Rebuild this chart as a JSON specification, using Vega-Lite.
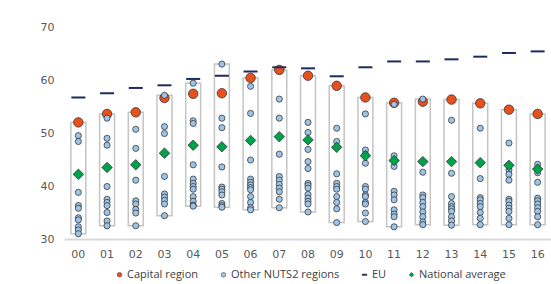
{
  "$schema": "https://vega.github.io/schema/vega-lite/v6.json",
  "autosize": "none",
  "padding": {"left": 64, "top": 27, "right": 0, "bottom": 45},
  "width": 488,
  "height": 212,
  "config": {"view": {"stroke": null}, "font": "DejaVu Sans"},
  "datasets": {
    "d": [
      {"yr":"00","s":"Capital region","v":52.0},{"yr":"01","s":"Capital region","v":53.6},{"yr":"02","s":"Capital region","v":53.9},{"yr":"03","s":"Capital region","v":56.6},{"yr":"04","s":"Capital region","v":57.4},{"yr":"05","s":"Capital region","v":57.5},{"yr":"06","s":"Capital region","v":60.4},{"yr":"07","s":"Capital region","v":61.9},{"yr":"08","s":"Capital region","v":60.8},{"yr":"09","s":"Capital region","v":58.9},{"yr":"10","s":"Capital region","v":56.7},{"yr":"11","s":"Capital region","v":55.7},{"yr":"12","s":"Capital region","v":55.9},{"yr":"13","s":"Capital region","v":56.3},{"yr":"14","s":"Capital region","v":55.6},{"yr":"15","s":"Capital region","v":54.4},{"yr":"16","s":"Capital region","v":53.6},
      {"yr":"00","s":"National average","v":42.2},{"yr":"01","s":"National average","v":43.5},{"yr":"02","s":"National average","v":44.0},{"yr":"03","s":"National average","v":46.2},{"yr":"04","s":"National average","v":47.7},{"yr":"05","s":"National average","v":47.4},{"yr":"06","s":"National average","v":48.6},{"yr":"07","s":"National average","v":49.3},{"yr":"08","s":"National average","v":48.7},{"yr":"09","s":"National average","v":47.3},{"yr":"10","s":"National average","v":45.7},{"yr":"11","s":"National average","v":44.8},{"yr":"12","s":"National average","v":44.6},{"yr":"13","s":"National average","v":44.6},{"yr":"14","s":"National average","v":44.4},{"yr":"15","s":"National average","v":43.9},{"yr":"16","s":"National average","v":43.2},
      {"yr":"00","s":"EU","v":56.7},{"yr":"01","s":"EU","v":57.5},{"yr":"02","s":"EU","v":58.5},{"yr":"03","s":"EU","v":59.0},{"yr":"04","s":"EU","v":60.2},{"yr":"05","s":"EU","v":60.8},{"yr":"06","s":"EU","v":61.6},{"yr":"07","s":"EU","v":62.4},{"yr":"08","s":"EU","v":62.2},{"yr":"09","s":"EU","v":60.7},{"yr":"10","s":"EU","v":62.4},{"yr":"11","s":"EU","v":63.5},{"yr":"12","s":"EU","v":63.5},{"yr":"13","s":"EU","v":63.9},{"yr":"14","s":"EU","v":64.4},{"yr":"15","s":"EU","v":65.1},{"yr":"16","s":"EU","v":65.4},
      {"yr":"00","s":"Other NUTS2 regions","v":49.5},{"yr":"00","s":"Other NUTS2 regions","v":48.4},{"yr":"00","s":"Other NUTS2 regions","v":38.8},{"yr":"00","s":"Other NUTS2 regions","v":36.3},{"yr":"00","s":"Other NUTS2 regions","v":35.8},{"yr":"00","s":"Other NUTS2 regions","v":34.0},{"yr":"00","s":"Other NUTS2 regions","v":33.6},{"yr":"00","s":"Other NUTS2 regions","v":32.3},{"yr":"00","s":"Other NUTS2 regions","v":31.7},{"yr":"00","s":"Other NUTS2 regions","v":31.0},
      {"yr":"01","s":"Other NUTS2 regions","v":52.8},{"yr":"01","s":"Other NUTS2 regions","v":49.0},{"yr":"01","s":"Other NUTS2 regions","v":47.7},{"yr":"01","s":"Other NUTS2 regions","v":39.9},{"yr":"01","s":"Other NUTS2 regions","v":37.5},{"yr":"01","s":"Other NUTS2 regions","v":36.9},{"yr":"01","s":"Other NUTS2 regions","v":36.3},{"yr":"01","s":"Other NUTS2 regions","v":35.0},{"yr":"01","s":"Other NUTS2 regions","v":33.4},{"yr":"01","s":"Other NUTS2 regions","v":32.5},
      {"yr":"02","s":"Other NUTS2 regions","v":50.7},{"yr":"02","s":"Other NUTS2 regions","v":47.1},{"yr":"02","s":"Other NUTS2 regions","v":41.1},{"yr":"02","s":"Other NUTS2 regions","v":37.2},{"yr":"02","s":"Other NUTS2 regions","v":36.6},{"yr":"02","s":"Other NUTS2 regions","v":35.6},{"yr":"02","s":"Other NUTS2 regions","v":34.9},{"yr":"02","s":"Other NUTS2 regions","v":32.5},
      {"yr":"03","s":"Other NUTS2 regions","v":57.1},{"yr":"03","s":"Other NUTS2 regions","v":51.2},{"yr":"03","s":"Other NUTS2 regions","v":49.9},{"yr":"03","s":"Other NUTS2 regions","v":41.8},{"yr":"03","s":"Other NUTS2 regions","v":38.5},{"yr":"03","s":"Other NUTS2 regions","v":37.9},{"yr":"03","s":"Other NUTS2 regions","v":37.3},{"yr":"03","s":"Other NUTS2 regions","v":36.6},{"yr":"03","s":"Other NUTS2 regions","v":34.4},
      {"yr":"04","s":"Other NUTS2 regions","v":59.4},{"yr":"04","s":"Other NUTS2 regions","v":52.3},{"yr":"04","s":"Other NUTS2 regions","v":51.8},{"yr":"04","s":"Other NUTS2 regions","v":44.0},{"yr":"04","s":"Other NUTS2 regions","v":41.3},{"yr":"04","s":"Other NUTS2 regions","v":40.5},{"yr":"04","s":"Other NUTS2 regions","v":39.9},{"yr":"04","s":"Other NUTS2 regions","v":39.4},{"yr":"04","s":"Other NUTS2 regions","v":38.0},{"yr":"04","s":"Other NUTS2 regions","v":37.1},{"yr":"04","s":"Other NUTS2 regions","v":36.4},{"yr":"04","s":"Other NUTS2 regions","v":36.2},
      {"yr":"05","s":"Other NUTS2 regions","v":63.0},{"yr":"05","s":"Other NUTS2 regions","v":52.8},{"yr":"05","s":"Other NUTS2 regions","v":51.0},{"yr":"05","s":"Other NUTS2 regions","v":43.6},{"yr":"05","s":"Other NUTS2 regions","v":39.8},{"yr":"05","s":"Other NUTS2 regions","v":39.4},{"yr":"05","s":"Other NUTS2 regions","v":38.9},{"yr":"05","s":"Other NUTS2 regions","v":38.3},{"yr":"05","s":"Other NUTS2 regions","v":36.7},{"yr":"05","s":"Other NUTS2 regions","v":36.3},{"yr":"05","s":"Other NUTS2 regions","v":36.0},
      {"yr":"06","s":"Other NUTS2 regions","v":58.8},{"yr":"06","s":"Other NUTS2 regions","v":53.7},{"yr":"06","s":"Other NUTS2 regions","v":44.9},{"yr":"06","s":"Other NUTS2 regions","v":41.3},{"yr":"06","s":"Other NUTS2 regions","v":40.7},{"yr":"06","s":"Other NUTS2 regions","v":40.2},{"yr":"06","s":"Other NUTS2 regions","v":39.7},{"yr":"06","s":"Other NUTS2 regions","v":39.3},{"yr":"06","s":"Other NUTS2 regions","v":38.0},{"yr":"06","s":"Other NUTS2 regions","v":36.9},{"yr":"06","s":"Other NUTS2 regions","v":35.9},{"yr":"06","s":"Other NUTS2 regions","v":35.5},
      {"yr":"07","s":"Other NUTS2 regions","v":56.4},{"yr":"07","s":"Other NUTS2 regions","v":52.8},{"yr":"07","s":"Other NUTS2 regions","v":46.0},{"yr":"07","s":"Other NUTS2 regions","v":41.8},{"yr":"07","s":"Other NUTS2 regions","v":41.1},{"yr":"07","s":"Other NUTS2 regions","v":40.3},{"yr":"07","s":"Other NUTS2 regions","v":39.6},{"yr":"07","s":"Other NUTS2 regions","v":38.9},{"yr":"07","s":"Other NUTS2 regions","v":37.5},{"yr":"07","s":"Other NUTS2 regions","v":35.9},
      {"yr":"08","s":"Other NUTS2 regions","v":52.0},{"yr":"08","s":"Other NUTS2 regions","v":50.1},{"yr":"08","s":"Other NUTS2 regions","v":46.9},{"yr":"08","s":"Other NUTS2 regions","v":44.6},{"yr":"08","s":"Other NUTS2 regions","v":43.3},{"yr":"08","s":"Other NUTS2 regions","v":40.5},{"yr":"08","s":"Other NUTS2 regions","v":40.1},{"yr":"08","s":"Other NUTS2 regions","v":39.6},{"yr":"08","s":"Other NUTS2 regions","v":38.4},{"yr":"08","s":"Other NUTS2 regions","v":37.7},{"yr":"08","s":"Other NUTS2 regions","v":37.1},{"yr":"08","s":"Other NUTS2 regions","v":36.6},{"yr":"08","s":"Other NUTS2 regions","v":35.1},
      {"yr":"09","s":"Other NUTS2 regions","v":50.9},{"yr":"09","s":"Other NUTS2 regions","v":48.4},{"yr":"09","s":"Other NUTS2 regions","v":42.3},{"yr":"09","s":"Other NUTS2 regions","v":40.5},{"yr":"09","s":"Other NUTS2 regions","v":39.9},{"yr":"09","s":"Other NUTS2 regions","v":39.4},{"yr":"09","s":"Other NUTS2 regions","v":38.0},{"yr":"09","s":"Other NUTS2 regions","v":36.9},{"yr":"09","s":"Other NUTS2 regions","v":35.7},{"yr":"09","s":"Other NUTS2 regions","v":33.1},
      {"yr":"10","s":"Other NUTS2 regions","v":53.6},{"yr":"10","s":"Other NUTS2 regions","v":46.8},{"yr":"10","s":"Other NUTS2 regions","v":46.0},{"yr":"10","s":"Other NUTS2 regions","v":44.3},{"yr":"10","s":"Other NUTS2 regions","v":39.9},{"yr":"10","s":"Other NUTS2 regions","v":39.4},{"yr":"10","s":"Other NUTS2 regions","v":38.3},{"yr":"10","s":"Other NUTS2 regions","v":38.0},{"yr":"10","s":"Other NUTS2 regions","v":36.9},{"yr":"10","s":"Other NUTS2 regions","v":36.6},{"yr":"10","s":"Other NUTS2 regions","v":34.9},{"yr":"10","s":"Other NUTS2 regions","v":33.3},
      {"yr":"11","s":"Other NUTS2 regions","v":55.4},{"yr":"11","s":"Other NUTS2 regions","v":45.7},{"yr":"11","s":"Other NUTS2 regions","v":43.7},{"yr":"11","s":"Other NUTS2 regions","v":39.0},{"yr":"11","s":"Other NUTS2 regions","v":38.3},{"yr":"11","s":"Other NUTS2 regions","v":37.4},{"yr":"11","s":"Other NUTS2 regions","v":35.5},{"yr":"11","s":"Other NUTS2 regions","v":34.7},{"yr":"11","s":"Other NUTS2 regions","v":34.2},{"yr":"11","s":"Other NUTS2 regions","v":32.3},
      {"yr":"12","s":"Other NUTS2 regions","v":56.4},{"yr":"12","s":"Other NUTS2 regions","v":42.6},{"yr":"12","s":"Other NUTS2 regions","v":38.3},{"yr":"12","s":"Other NUTS2 regions","v":37.8},{"yr":"12","s":"Other NUTS2 regions","v":36.9},{"yr":"12","s":"Other NUTS2 regions","v":36.1},{"yr":"12","s":"Other NUTS2 regions","v":35.1},{"yr":"12","s":"Other NUTS2 regions","v":34.2},{"yr":"12","s":"Other NUTS2 regions","v":33.2},{"yr":"12","s":"Other NUTS2 regions","v":32.7},
      {"yr":"13","s":"Other NUTS2 regions","v":52.4},{"yr":"13","s":"Other NUTS2 regions","v":42.4},{"yr":"13","s":"Other NUTS2 regions","v":38.0},{"yr":"13","s":"Other NUTS2 regions","v":36.7},{"yr":"13","s":"Other NUTS2 regions","v":36.1},{"yr":"13","s":"Other NUTS2 regions","v":35.7},{"yr":"13","s":"Other NUTS2 regions","v":35.2},{"yr":"13","s":"Other NUTS2 regions","v":34.2},{"yr":"13","s":"Other NUTS2 regions","v":33.4},{"yr":"13","s":"Other NUTS2 regions","v":32.6},
      {"yr":"14","s":"Other NUTS2 regions","v":50.9},{"yr":"14","s":"Other NUTS2 regions","v":41.4},{"yr":"14","s":"Other NUTS2 regions","v":37.8},{"yr":"14","s":"Other NUTS2 regions","v":37.4},{"yr":"14","s":"Other NUTS2 regions","v":36.7},{"yr":"14","s":"Other NUTS2 regions","v":36.1},{"yr":"14","s":"Other NUTS2 regions","v":35.0},{"yr":"14","s":"Other NUTS2 regions","v":33.9},{"yr":"14","s":"Other NUTS2 regions","v":32.7},
      {"yr":"15","s":"Other NUTS2 regions","v":48.1},{"yr":"15","s":"Other NUTS2 regions","v":43.0},{"yr":"15","s":"Other NUTS2 regions","v":42.2},{"yr":"15","s":"Other NUTS2 regions","v":41.1},{"yr":"15","s":"Other NUTS2 regions","v":37.5},{"yr":"15","s":"Other NUTS2 regions","v":37.1},{"yr":"15","s":"Other NUTS2 regions","v":36.4},{"yr":"15","s":"Other NUTS2 regions","v":35.8},{"yr":"15","s":"Other NUTS2 regions","v":35.2},{"yr":"15","s":"Other NUTS2 regions","v":33.9},{"yr":"15","s":"Other NUTS2 regions","v":32.7},
      {"yr":"16","s":"Other NUTS2 regions","v":44.1},{"yr":"16","s":"Other NUTS2 regions","v":42.5},{"yr":"16","s":"Other NUTS2 regions","v":40.7},{"yr":"16","s":"Other NUTS2 regions","v":37.7},{"yr":"16","s":"Other NUTS2 regions","v":37.2},{"yr":"16","s":"Other NUTS2 regions","v":36.6},{"yr":"16","s":"Other NUTS2 regions","v":35.9},{"yr":"16","s":"Other NUTS2 regions","v":35.2},{"yr":"16","s":"Other NUTS2 regions","v":34.2},{"yr":"16","s":"Other NUTS2 regions","v":32.7}
    ]
  },
  "data": {"name": "d"},
  "encoding": {
    "x": {"field": "yr", "type": "ordinal", "title": null,
      "scale": {"paddingInner": 0, "paddingOuter": 0},
      "axis": {"labelAngle": 0, "ticks": false, "domainColor": "#d9d9d9", "domainWidth": 2, "labelColor": "#595959", "labelFontSize": 11, "labelPadding": 9}}
  },
  "layer": [
    {
      "transform": [
        {"filter": {"field": "s", "oneOf": ["Capital region", "Other NUTS2 regions"]}},
        {"aggregate": [{"op": "min", "field": "v", "as": "lo"}, {"op": "max", "field": "v", "as": "hi"}], "groupby": ["yr"]}
      ],
      "mark": {"type": "bar", "fill": "white", "stroke": "#c4c4c4", "strokeWidth": 1.5, "width": {"band": 0.52}},
      "encoding": {
        "y": {"field": "lo", "type": "quantitative", "scale": {"domain": [30, 70], "nice": false, "zero": false}, "title": null,
          "axis": {"values": [30, 35, 40, 45, 50, 55, 60, 65, 70], "domain": false, "ticks": false, "grid": false, "labelColor": "#595959", "labelFontSize": 11, "labelPadding": 10}},
        "y2": {"field": "hi"}
      }
    },
    {
      "transform": [{"filter": {"field": "s", "equal": "Capital region"}}],
      "mark": {"type": "point", "filled": true, "size": 90, "stroke": "#262626", "strokeWidth": 0.7, "opacity": 1},
      "encoding": {
        "y": {"field": "v", "type": "quantitative"},
        "color": {"field": "s", "type": "nominal",
          "scale": {"domain": ["Capital region", "Other NUTS2 regions", "EU", "National average"], "range": ["#e8501c", "#9dc3e6", "#1f2a5e", "#00a14b"]},
          "legend": {"orient": "none", "legendX": 50, "legendY": 242, "direction": "horizontal", "title": null, "labelFont": "Open Sans", "labelFontSize": 11, "labelColor": "#404040", "symbolSize": 22, "columnPadding": 19, "labelOffset": 2, "symbolStrokeColor": "#333333", "symbolStrokeWidth": 0.5}},
        "shape": {"field": "s", "type": "nominal",
          "scale": {"domain": ["Capital region", "Other NUTS2 regions", "EU", "National average"], "range": ["circle", "circle", "M-1,-0.3H1V0.3H-1Z", "diamond"]},
          "legend": {"orient": "none", "legendX": 50, "legendY": 242, "direction": "horizontal", "title": null}}
      }
    },
    {
      "transform": [{"filter": {"field": "s", "equal": "Other NUTS2 regions"}}],
      "mark": {"type": "point", "filled": true, "size": 38, "stroke": "#262626", "strokeWidth": 0.7, "opacity": 1},
      "encoding": {
        "y": {"field": "v", "type": "quantitative"},
        "color": {"field": "s", "type": "nominal"},
        "shape": {"field": "s", "type": "nominal"}
      }
    },
    {
      "transform": [{"filter": {"field": "s", "equal": "National average"}}],
      "mark": {"type": "point", "filled": true, "size": 110, "stroke": "#262626", "strokeWidth": 0.7, "opacity": 1},
      "encoding": {
        "y": {"field": "v", "type": "quantitative"},
        "color": {"field": "s", "type": "nominal"},
        "shape": {"field": "s", "type": "nominal"}
      }
    },
    {
      "transform": [{"filter": {"field": "s", "equal": "EU"}}],
      "mark": {"type": "tick", "thickness": 2, "size": 14, "opacity": 1},
      "encoding": {
        "y": {"field": "v", "type": "quantitative"},
        "color": {"field": "s", "type": "nominal"}
      }
    }
  ]
}
